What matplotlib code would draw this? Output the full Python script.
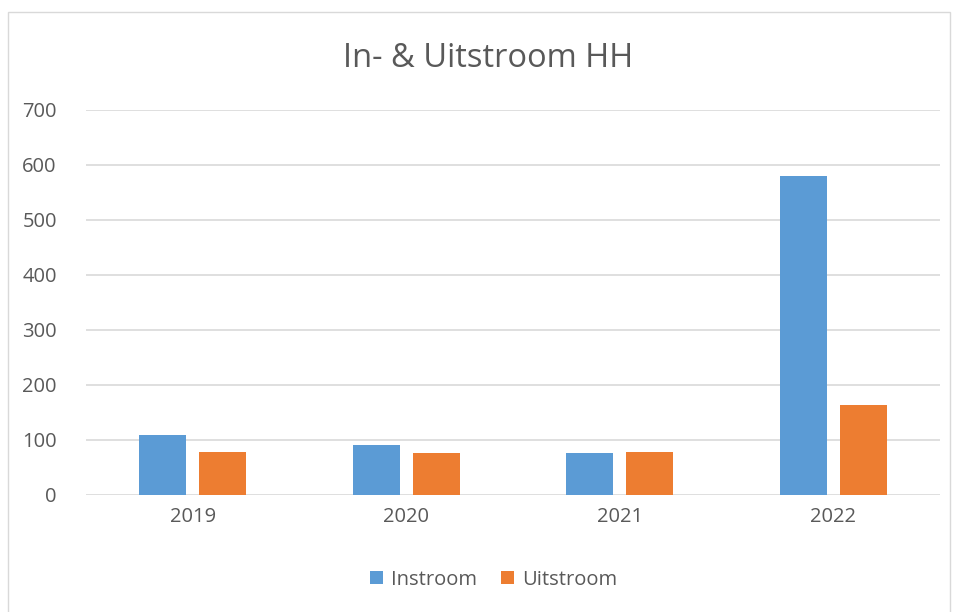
import numpy as np
import matplotlib.pyplot as plt
from matplotlib.patches import Rectangle

years = ['2019', '2020', '2021', '2022']
instroom = [109, 90, 76, 580]
uitstroom = [78, 76, 78, 163]

plt.rcParams['font.family'] = ['Open Sans', 'DejaVu Sans']
txt = '#595959'

fig = plt.figure(figsize=(9.58, 6.12), dpi=100)
ax = fig.add_axes([0.0898, 0.1917, 0.8914, 0.6286])

# chart border
fig.patches.append(Rectangle((8 / 958, -0.01), 942 / 958, 1 - 12 / 612 + 0.01,
                             transform=fig.transFigure, fill=False,
                             edgecolor='#d9d9d9', linewidth=1))

x = np.arange(len(years))
w = 0.22
gap = 0.06
ax.bar(x - (w + gap) / 2, instroom, w, color='#5b9bd5', label='Instroom', zorder=3)
ax.bar(x + (w + gap) / 2, uitstroom, w, color='#ed7d31', label='Uitstroom', zorder=3)

ax.set_xlim(-0.5, 3.5)
ax.set_ylim(0, 700)
ax.set_yticks(range(0, 701, 100))
ax.set_xticks(x)
ax.set_xticklabels(years)
ax.grid(axis='y', color='#d9d9d9', linewidth=1.2, zorder=0)
for s in ax.spines.values():
    s.set_visible(False)
ax.tick_params(length=0, labelsize=14.5, colors=txt, pad=9)
ax.tick_params(axis='y', pad=21)

fig.text(0.51, 0.905, 'In- & Uitstroom HH', ha='center', va='center',
         fontsize=23.5, color=txt)

leg = fig.legend(loc='center', bbox_to_anchor=(0.515, 0.053), ncol=2, frameon=False,
                 fontsize=14.5, handlelength=0.65, handleheight=0.65,
                 handletextpad=0.4, columnspacing=1.2, labelcolor=txt)

fig.savefig('out.png', dpi=100)
